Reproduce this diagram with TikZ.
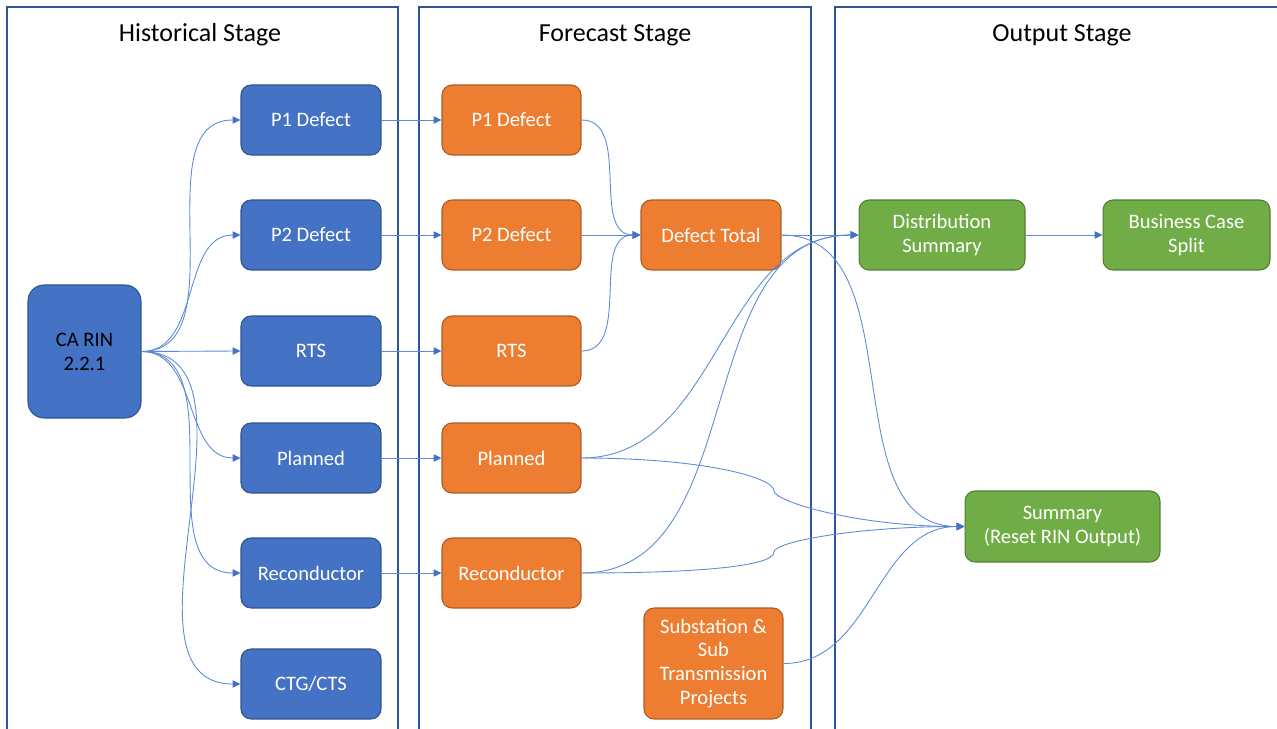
\documentclass[tikz,border=0pt]{standalone}
\usepackage{fontspec}
\setmainfont{Carlito}
\usetikzlibrary{arrows.meta}
\definecolor{panelc}{HTML}{2F5597}
\definecolor{bluef}{HTML}{4472C4}
\definecolor{blued}{HTML}{2F528F}
\definecolor{orangef}{HTML}{ED7D31}
\definecolor{oranged}{HTML}{AE5A21}
\definecolor{greenf}{HTML}{70AD47}
\definecolor{greend}{HTML}{507E32}
\definecolor{linkc}{HTML}{5B8BD6}
\definecolor{tipc}{HTML}{4472C4}
\tikzset{
  box/.style={rounded corners=0.2cm, line width=0.6pt, inner sep=0pt, align=center,
    text=white, font=\fontsize{11.7}{13.6}\selectfont},
  bluebox/.style={box, fill=bluef, draw=blued, minimum width=2.8cm, minimum height=1.4cm},
  orangebox/.style={box, fill=orangef, draw=oranged, minimum width=2.78cm, minimum height=1.4cm},
  greenbox/.style={box, fill=greenf, draw=greend, minimum height=1.4cm},
  panel/.style={draw=panelc, line width=0.75pt},
  title/.style={font=\fontsize{14.8}{18}\selectfont, text=black},
  link/.style={draw=linkc, line width=0.5pt, -{Triangle[length=4.5pt,width=4.2pt,color=tipc]}},
}
\begin{document}
\begin{tikzpicture}[x=0.02cm, y=-0.02cm]
\useasboundingbox (0,0) rectangle (1277,729);
% panels
\draw[panel] (7,740) -- (7,7) -- (398,7) -- (398,740);
\draw[panel] (419,740) -- (419,7) -- (811,7) -- (811,740);
\draw[panel] (835,740) -- (835,7) -- (1290,7);
\node[title] (t1) at (200,35) {Historical Stage};
\node[title] (t2) at (615,35) {Forecast Stage};
\node[title] (t3) at (1062,35) {Output Stage};
% nodes
\node[box, fill=bluef, draw=blued, rounded corners=0.32cm, minimum width=2.26cm, minimum height=2.66cm, text=black] (ca) at (84.5,351.5) {CA RIN\\2.2.1};
\node[bluebox] (hp1) at (311,120) {P1 Defect};
\node[bluebox] (hp2) at (311,235) {P2 Defect};
\node[bluebox] (hrts) at (311,351) {RTS};
\node[bluebox] (hpl) at (311,458) {Planned};
\node[bluebox] (hrc) at (311,573) {Reconductor};
\node[bluebox] (hctg) at (311,684) {CTG/CTS};
\node[orangebox] (fp1) at (511.5,120) {P1 Defect};
\node[orangebox] (fp2) at (511.5,235) {P2 Defect};
\node[orangebox] (frts) at (511.5,351) {RTS};
\node[orangebox] (fpl) at (511.5,458) {Planned};
\node[orangebox] (frc) at (511.5,573) {Reconductor};
\node[orangebox, minimum width=2.8cm] (dt) at (711,235) {Defect Total};
\node[orangebox, minimum height=2.22cm] (sub) at (713.5,663.5) {Substation \&\\Sub\\Transmission\\Projects};
\node[greenbox, minimum width=3.32cm] (ds) at (942,235) {Distribution\\Summary};
\node[greenbox, minimum width=3.34cm] (bcs) at (1186.5,235) {Business Case\\Split};
\node[greenbox, minimum width=3.9cm, minimum height=1.42cm] (sum) at (1062.5,526.5) {Summary\\(Reset RIN Output)};
\coordinate (w1) at (774,491);
\coordinate (w2) at (774,552);
% connectors
\foreach \t in {hp1,hp2,hpl,hrc,hctg} {\draw[link] (ca.east) to[out=0,in=180] (\t.west);}
\draw[link] (ca.east) -- (hrts.west);
\draw[link] (hp1) -- (fp1);
\draw[link] (hp2) -- (fp2);
\draw[link] (hrts) -- (frts);
\draw[link] (hpl) -- (fpl);
\draw[link] (hrc) -- (frc);
\draw[link] (fp1.east) to[out=0,in=180] (dt.west);
\draw[link] (fp2.east) -- (dt.west);
\draw[link] (frts.east) to[out=0,in=180] (dt.west);
\draw[link] (dt.east) -- (ds.west);
\draw[link] (dt.east) to[out=0,in=180] (sum.west);
\draw[link] (fpl.east) to[out=0,in=180] (ds.west);
\draw[link] (frc.east) to[out=0,in=180] (ds.west);
\draw[link] (fpl.east) .. controls +(120,0) and +(0,-14) .. (w1) .. controls +(0,10) and +(-110,0) .. (sum.west);
\draw[link] (frc.east) .. controls +(120,0) and +(0,14) .. (w2) .. controls +(0,-10) and +(-110,0) .. (sum.west);
\draw[link] (sub.east) to[out=0,in=180] (sum.west);
\draw[link] (ds) -- (bcs);
\end{tikzpicture}
\end{document}
